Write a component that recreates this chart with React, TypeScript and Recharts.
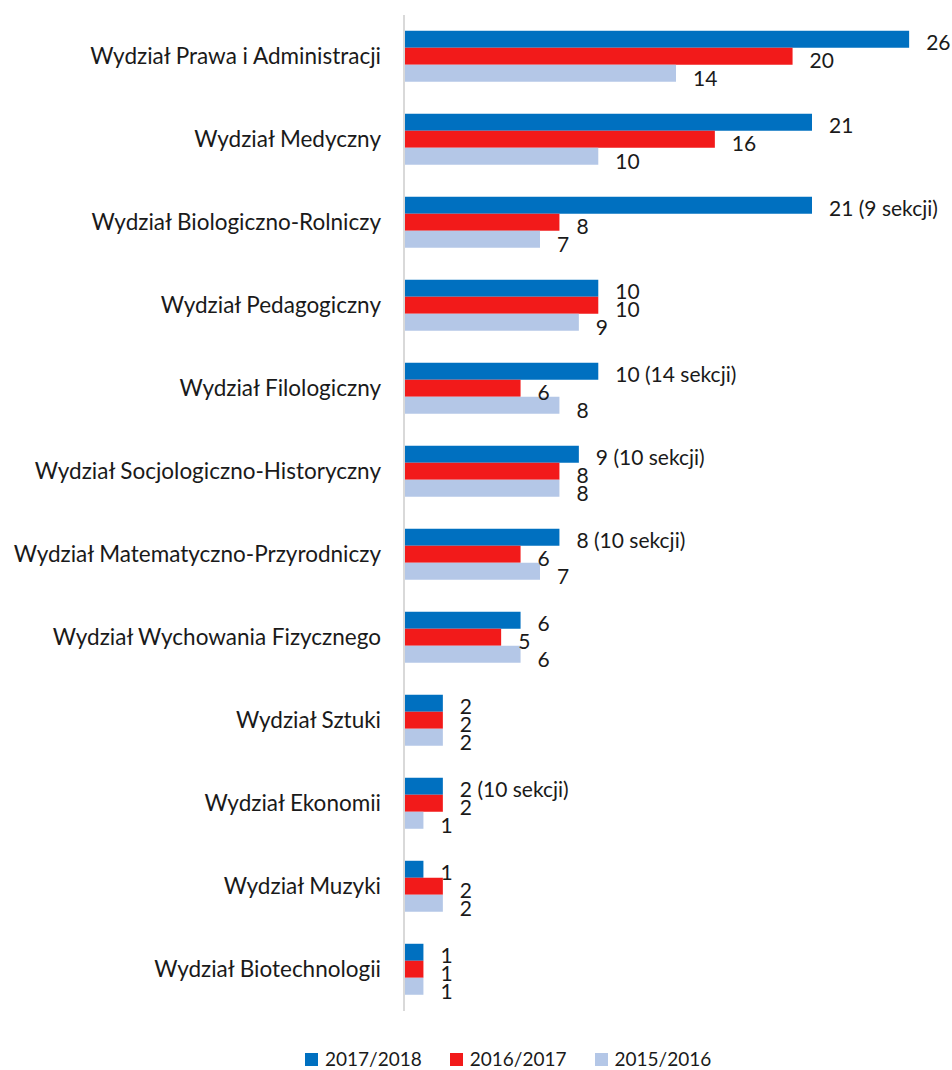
import React from "react";
import { BarChart, Bar, XAxis, YAxis, Legend, LabelList } from "recharts";

const categories = [
  "Wydział Prawa i Administracji",
  "Wydział Medyczny",
  "Wydział Biologiczno-Rolniczy",
  "Wydział Pedagogiczny",
  "Wydział Filologiczny",
  "Wydział Socjologiczno-Historyczny",
  "Wydział Matematyczno-Przyrodniczy",
  "Wydział Wychowania Fizycznego",
  "Wydział Sztuki",
  "Wydział Ekonomii",
  "Wydział Muzyki",
  "Wydział Biotechnologii",
];
const values2017 = [26, 21, 21, 10, 10, 9, 8, 6, 2, 2, 1, 1];
const values2016 = [20, 16, 8, 10, 6, 8, 6, 5, 2, 2, 2, 1];
const values2015 = [14, 10, 7, 9, 8, 8, 7, 6, 2, 1, 2, 1];
const sections2017: (number | null)[] = [null, null, 9, null, 14, 10, 10, null, null, 10, null, null];

const seriesNames = ["2017/2018", "2016/2017", "2015/2016"];
const colors = ["#0070C0", "#F21A1A", "#B4C7E7"];

const data = categories.map((name, i) => ({
  name,
  s2017: values2017[i],
  s2016: values2016[i],
  s2015: values2015[i],
  l2017: sections2017[i] != null ? `${values2017[i]} (${sections2017[i]} sekcji)` : `${values2017[i]}`,
}));

const FONT = "Lato, 'Open Sans', sans-serif";

const makeLabel = (dy: number) => (props: any) => {
  const { x, y, width, height, value } = props;
  return (
    <text
      x={Number(x) + Number(width) + 17}
      y={Number(y) + Number(height) / 2 + dy}
      dominantBaseline="central"
      fontSize={21}
      fontFamily={FONT}
      fill="#1a1a1a"
    >
      {value}
    </text>
  );
};

const LegendContent = () => (
  <div
    style={{
      height: 59,
      paddingTop: 37,
      boxSizing: "border-box",
      display: "flex",
      alignItems: "center",
      paddingLeft: 305,
      fontFamily: FONT,
      fontSize: 19,
      color: "#1a1a1a",
      lineHeight: "20px",
    }}
  >
    {seriesNames.map((n, i) => (
      <div key={n} style={{ display: "flex", alignItems: "center", marginRight: 28 }}>
        <span style={{ width: 13, height: 13, background: colors[i], display: "inline-block", marginRight: 7 }} />
        <span>{n}</span>
      </div>
    ))}
  </div>
);

export default function App() {
  return (
    <div style={{ position: "absolute", left: 0, top: 0, width: 952, height: 1070, fontFamily: FONT, overflow: "hidden" }}>
      <BarChart
        layout="vertical"
        width={952}
        height={1070}
        data={data}
        margin={{ top: 15, right: 4, bottom: 0, left: 0 }}
        barCategoryGap="19%"
        barGap={0}
      >
        <XAxis type="number" domain={[0, 28]} hide />
        <YAxis
          type="category"
          dataKey="name"
          width={404}
          tickLine={false}
          tickSize={0}
          tickMargin={23}
          axisLine={{ stroke: "#d9d9d9", strokeWidth: 2 }}
          tick={{ fontSize: 22.5, fill: "#1a1a1a", fontFamily: FONT }}
          interval={0}
        />
        <Legend
          verticalAlign="bottom"
          content={<LegendContent />}
          wrapperStyle={{ left: 0, width: 952, height: 59 }}
        />
        <Bar dataKey="s2017" name={seriesNames[0]} fill={colors[0]} isAnimationActive={false}>
          <LabelList dataKey="l2017" content={makeLabel(2)} />
        </Bar>
        <Bar dataKey="s2016" name={seriesNames[1]} fill={colors[1]} isAnimationActive={false}>
          <LabelList dataKey="s2016" content={makeLabel(3)} />
        </Bar>
        <Bar dataKey="s2015" name={seriesNames[2]} fill={colors[2]} isAnimationActive={false}>
          <LabelList dataKey="s2015" content={makeLabel(4)} />
        </Bar>
      </BarChart>
    </div>
  );
}
